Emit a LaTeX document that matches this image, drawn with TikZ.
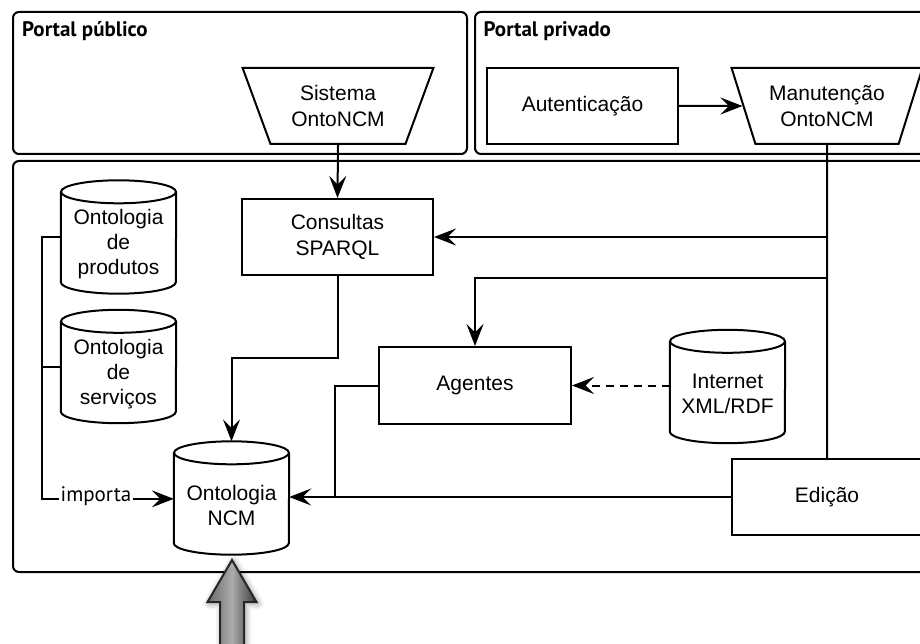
\documentclass[tikz,border=0pt]{standalone}
\usepackage{fontspec}
\setmainfont{Liberation Sans}
\newfontfamily\captionfont{PT Sans}
\usetikzlibrary{arrows.meta,calc,shapes.geometric}

\definecolor{shaftL}{HTML}{6A6A6A}
\definecolor{shaftM}{HTML}{ABABAB}
\definecolor{shaftR}{HTML}{383838}

% outline of a database cylinder drawn around a named node
\newcommand\dboutline[1]{%
  \draw[line] ($(#1.north west)+(0,-11.5)$) -- ($(#1.south west)+(0,11.5)$)
    arc[start angle=180,end angle=360,x radius=57.5,y radius=11.5]
    -- ($(#1.north east)+(0,-11.5)$);
  \draw[line] ($(#1.north)+(0,-11.5)$) ellipse[x radius=57.5,y radius=11.5];}
% strut that pushes cylinder labels below the lid
\newcommand\lidgap{\rule{0pt}{30pt}}

\begin{document}
\begin{tikzpicture}[x=1pt,y=1pt,
  line/.style={line width=2pt},
  conn/.style={line,-{Stealth[length=22pt,width=17pt,inset=8.5pt]}},
  panel/.style={line,rounded corners=6pt},
  boxnode/.style={draw,line width=2pt,minimum width=191pt,minimum height=76pt,
    align=center,font=\fontsize{21}{26}\selectfont},
  funnel/.style={trapezium,draw,line width=2pt,shape border rotate=180,
    trapezium stretches=true,trapezium angle=65,minimum width=191pt,
    minimum height=76pt,inner sep=0pt,align=center,font=\fontsize{21}{26}\selectfont},
  dbnode/.style={minimum width=115pt,minimum height=113pt,inner sep=0pt,align=center,
    font=\fontsize{21}{25}\selectfont},
  title/.style={anchor=base west,inner sep=0pt,
    font=\captionfont\bfseries\fontsize{21}{25}\selectfont},
]
\useasboundingbox (0,0) rectangle (920,-644);

% panels
\draw[panel] (13,-12) rectangle (467,-154);
\draw[panel] (475,-12) rectangle (940,-154);
\draw[panel] (13,-161) rectangle (940,-572);
\node[title] (pub) at (22,-37) {Portal público};
\node[title] (priv) at (483.5,-37) {Portal privado};

% portal nodes
\node[funnel] (sis) at (338,-106) {Sistema\\OntoNCM};
\node[boxnode] (aut) at (582.5,-106) {Autenticação};
\node[funnel] (man) at (827,-106) {Manutenção\\OntoNCM};

% core nodes
\node[boxnode] (con) at (337.5,-237) {Consultas\\SPARQL};
\node[boxnode,minimum width=192pt,minimum height=77pt] (age) at (475,-385.5) {Agentes};
\node[boxnode,minimum width=190pt] (edi) at (827,-497) {Edição};

\node[dbnode] (prod) at (118.5,-237) {\lidgap Ontologia\\de\\produtos};
\node[dbnode] (serv) at (118.5,-366.5) {\lidgap Ontologia\\de\\serviços};
\node[dbnode] (ncm) at (231.5,-498) {\lidgap Ontologia\\NCM};
\node[dbnode] (inet) at (727.5,-386.5) {\lidgap Internet\\XML/RDF};
\dboutline{prod}
\dboutline{serv}
\dboutline{ncm}
\dboutline{inet}

% connectors
\draw[conn] (sis.south) -- (con.north);
\draw[conn] (aut) -- (man);
\draw[line] (man.south) -- (edi.north);
\draw[conn] (man.south |- con.east) -- (con.east);
\coordinate (tapAg) at (827,-278);
\draw[conn] (tapAg) -| (age.north);
\draw[conn,dash pattern=on 8pt off 6pt] (age.east -| inet.west) -- (age.east);
\coordinate (qturn) at (337.5,-358);
\draw[conn] (con.south) -- (qturn) -| (ncm.north);
\coordinate (agdrop) at (335,-497);
\draw[line] (age.west) -| (agdrop);
\draw[conn] (edi.west) -- (edi.west -| ncm.east);

% imports into the NCM ontology
\node[anchor=base,inner sep=1.5pt,font=\captionfont\fontsize{21}{25}\selectfont] (imp) at (96,-501.5) {importa};
\coordinate (bus) at (42,-497);
\draw[line] (prod.west) -| (bus |- imp.mid west) -- (imp.mid west);
\draw[line] (serv.west) -- (serv.west -| bus);
\draw[conn] (imp.mid east) -- (ncm.west |- imp.mid east);

% large input arrow with a soft shadow
\foreach \w/\o in {12/0.035,9/0.045,6/0.06,3/0.08}{
  \draw[line width=\w pt,black,opacity=\o,line join=round,xshift=1.5pt,yshift=-1.5pt]
    (232,-560) -- (256.5,-602) -- (244,-602) -- (244,-660) -- (220,-660)
    -- (220,-602) -- (207.5,-602) -- cycle;}
\shade[left color=shaftL,right color=shaftR,middle color=shaftM]
  (232,-560) -- (256.5,-602) -- (244,-602) -- (244,-660) -- (220,-660)
  -- (220,-602) -- (207.5,-602) -- cycle;
\draw[line,draw=black!85,line join=miter]
  (232,-560) -- (256.5,-602) -- (244,-602) -- (244,-660) -- (220,-660)
  -- (220,-602) -- (207.5,-602) -- cycle;
\end{tikzpicture}
\end{document}
